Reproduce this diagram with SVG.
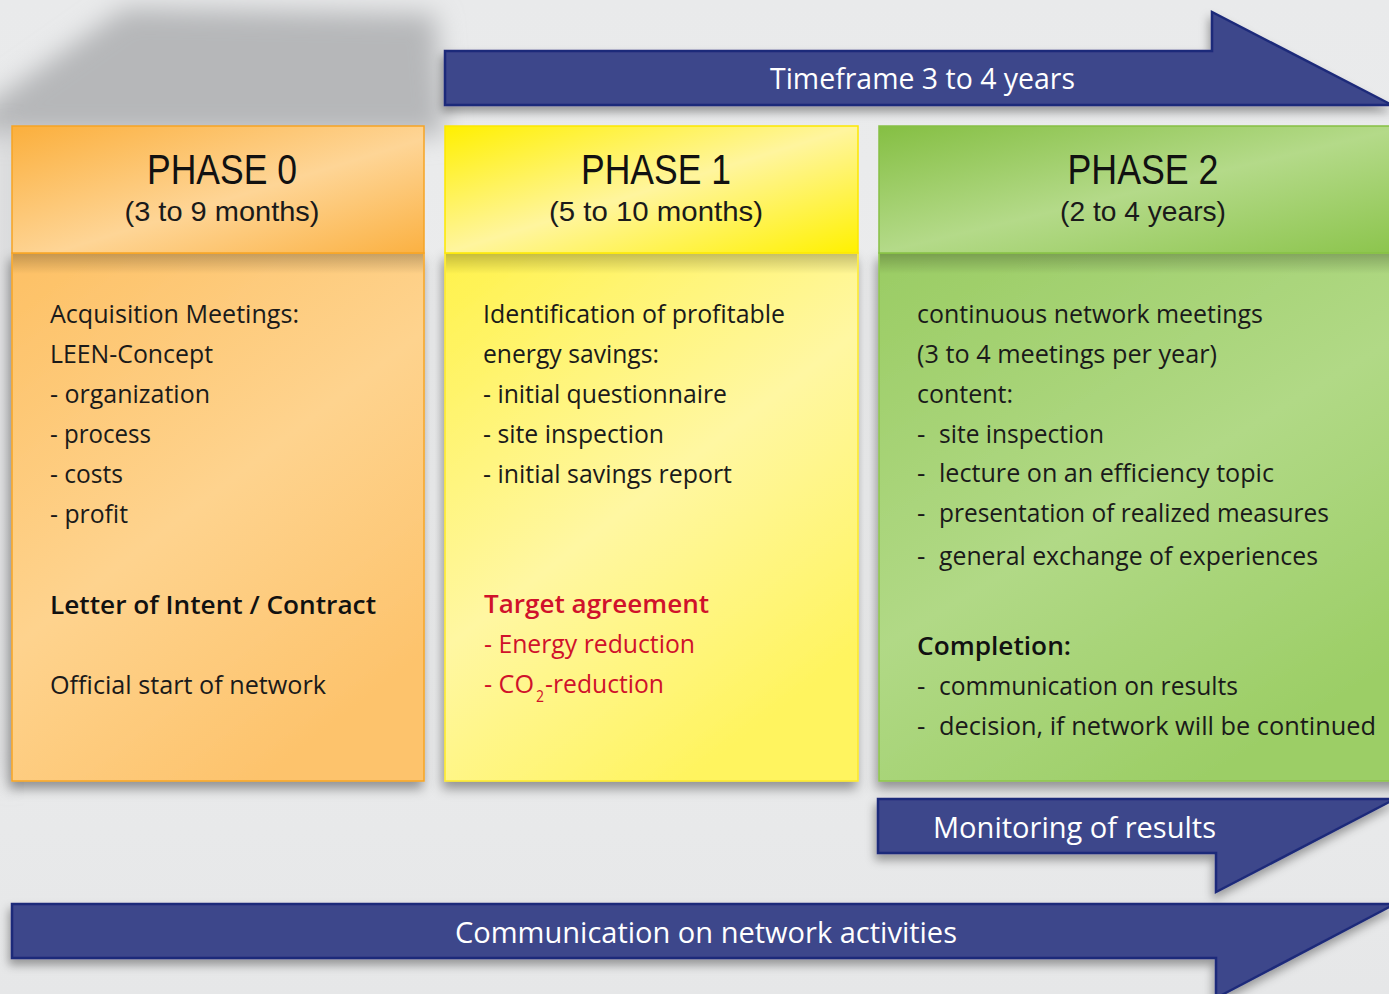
<svg xmlns="http://www.w3.org/2000/svg" width="1389" height="994" viewBox="0 0 1389 994">
<style>
text{font-family:"Open Sans","Noto Sans","Liberation Sans",sans-serif;}
.h{font-family:"Liberation Sans",Arial,sans-serif;font-size:42px;fill:#111;text-anchor:middle;}
.sub{font-family:"Liberation Sans",Arial,sans-serif;font-size:28px;fill:#1a1a1a;text-anchor:middle;}
.t{font-size:26px;fill:#1a1a1a;}
.b{font-size:26px;fill:#111;font-weight:600;}
.r{font-size:26px;fill:#d0112b;}
.rb{font-size:26px;fill:#d0112b;font-weight:600;}
.w{font-size:29px;fill:#ffffff;}
.arrow{fill:#3d468b;stroke:#1f2b7a;stroke-width:2.5;stroke-linejoin:miter;}
</style>
<defs>
<linearGradient id="bg" x1="0" y1="0" x2="0" y2="1">
<stop offset="0" stop-color="#e9eaeb"/><stop offset="0.5" stop-color="#ecedee"/><stop offset="1" stop-color="#e6e7e8"/>
</linearGradient>
<filter id="blur" x="-20%" y="-40%" width="140%" height="180%"><feGaussianBlur stdDeviation="13"/></filter>
<filter id="sh" x="-10%" y="-10%" width="120%" height="125%"><feDropShadow dx="-2" dy="7" stdDeviation="6" flood-color="#000" flood-opacity="0.38"/></filter>
<filter id="sh2" x="-10%" y="-30%" width="120%" height="170%"><feDropShadow dx="-2" dy="6" stdDeviation="5" flood-color="#000" flood-opacity="0.35"/></filter>
<linearGradient id="o1" x1="0" y1="0" x2="1" y2="1">
<stop offset="0" stop-color="#fbaf3c"/><stop offset="0.55" stop-color="#fed596"/><stop offset="1" stop-color="#fbb142"/>
</linearGradient>
<linearGradient id="o2" x1="0" y1="0" x2="0.6" y2="1">
<stop offset="0" stop-color="#fdc064"/><stop offset="0.55" stop-color="#fed38e"/><stop offset="1" stop-color="#fdc36c"/>
</linearGradient>
<linearGradient id="y1" x1="0" y1="0" x2="1" y2="1">
<stop offset="0" stop-color="#fff000"/><stop offset="0.5" stop-color="#fff59e"/><stop offset="1" stop-color="#fff100"/>
</linearGradient>
<linearGradient id="y2" x1="0" y1="0" x2="0.6" y2="1">
<stop offset="0" stop-color="#fff24a"/><stop offset="0.55" stop-color="#fff7a2"/><stop offset="1" stop-color="#fff45e"/>
</linearGradient>
<linearGradient id="g1" x1="0" y1="0" x2="1" y2="1">
<stop offset="0" stop-color="#85bf43"/><stop offset="0.5" stop-color="#b4da89"/><stop offset="1" stop-color="#8bc44b"/>
</linearGradient>
<linearGradient id="g2" x1="0" y1="0" x2="0.6" y2="1">
<stop offset="0" stop-color="#9acc63"/><stop offset="0.55" stop-color="#b1d986"/><stop offset="1" stop-color="#9cce66"/>
</linearGradient>
<linearGradient id="hs" x1="0" y1="0" x2="0" y2="1">
<stop offset="0" stop-color="#000" stop-opacity="0.22"/><stop offset="1" stop-color="#000" stop-opacity="0"/>
</linearGradient>
</defs>

<rect x="0" y="0" width="1389" height="994" fill="url(#bg)"/>
<polygon points="125,8 435,14 445,135 -20,135 -20,110" fill="#b6b7b9" filter="url(#blur)"/>
<polygon points="0,130 20,130 20,780 0,780" fill="#c4c5c7" filter="url(#blur)" opacity="0.7"/>

<g id="phase0">
<g filter="url(#sh)">
<rect x="12" y="253" width="412" height="528" fill="url(#o2)" stroke="#f6a425" stroke-width="1.5"/>
</g>
<rect x="13" y="254" width="410" height="20" fill="url(#hs)"/>
<rect x="12" y="126" width="412" height="127" fill="url(#o1)" stroke="#f6a425" stroke-width="1.5"/>
<text class="h" x="222" y="184" textLength="150" lengthAdjust="spacingAndGlyphs">PHASE 0</text>
<text class="sub" x="222" y="221" textLength="195" lengthAdjust="spacingAndGlyphs">(3 to 9 months)</text>
<text class="t" x="50" y="323" textLength="249" lengthAdjust="spacingAndGlyphs">Acquisition Meetings:</text>
<text class="t" x="50" y="363" textLength="163" lengthAdjust="spacingAndGlyphs">LEEN-Concept</text>
<text class="t" x="50" y="403" textLength="160" lengthAdjust="spacingAndGlyphs">- organization</text>
<text class="t" x="50" y="443" textLength="101" lengthAdjust="spacingAndGlyphs">- process</text>
<text class="t" x="50" y="483" textLength="73" lengthAdjust="spacingAndGlyphs">- costs</text>
<text class="t" x="50" y="523" textLength="78" lengthAdjust="spacingAndGlyphs">- profit</text>
<text class="b" x="50" y="614" textLength="326" lengthAdjust="spacingAndGlyphs">Letter of Intent / Contract</text>
<text class="t" x="50" y="694" textLength="276" lengthAdjust="spacingAndGlyphs">Official start of network</text>
</g>

<g id="phase1">
<g filter="url(#sh)">
<rect x="445" y="253" width="413" height="528" fill="url(#y2)" stroke="#fde92a" stroke-width="1.5"/>
</g>
<rect x="446" y="254" width="411" height="20" fill="url(#hs)"/>
<rect x="445" y="126" width="413" height="127" fill="url(#y1)" stroke="#fde800" stroke-width="1.5"/>
<text class="h" x="656" y="184" textLength="150" lengthAdjust="spacingAndGlyphs">PHASE 1</text>
<text class="sub" x="656" y="221" textLength="214" lengthAdjust="spacingAndGlyphs">(5 to 10 months)</text>
<text class="t" x="483" y="323" textLength="302" lengthAdjust="spacingAndGlyphs">Identification of profitable</text>
<text class="t" x="483" y="363" textLength="176" lengthAdjust="spacingAndGlyphs">energy savings:</text>
<text class="t" x="483" y="403" textLength="244" lengthAdjust="spacingAndGlyphs">- initial questionnaire</text>
<text class="t" x="483" y="443" textLength="181" lengthAdjust="spacingAndGlyphs">- site inspection</text>
<text class="t" x="483" y="483" textLength="249" lengthAdjust="spacingAndGlyphs">- initial savings report</text>
<text class="rb" x="484" y="613" textLength="225" lengthAdjust="spacingAndGlyphs">Target agreement</text>
<text class="r" x="484" y="653" textLength="211" lengthAdjust="spacingAndGlyphs">- Energy reduction</text>
<text class="r" x="484" y="693" textLength="50" lengthAdjust="spacingAndGlyphs">- CO</text>
<text class="r" x="536" y="702" style="font-size:16px" textLength="8" lengthAdjust="spacingAndGlyphs">2</text>
<text class="r" x="545" y="693" textLength="119" lengthAdjust="spacingAndGlyphs">-reduction</text>
</g>

<g id="phase2">
<g filter="url(#sh)">
<rect x="879" y="253" width="530" height="528" fill="url(#g2)" stroke="#8dc54a" stroke-width="1.5"/>
</g>
<rect x="880" y="254" width="528" height="20" fill="url(#hs)"/>
<rect x="879" y="126" width="530" height="127" fill="url(#g1)" stroke="#86c044" stroke-width="1.5"/>
<text class="h" x="1143" y="184" textLength="151" lengthAdjust="spacingAndGlyphs">PHASE 2</text>
<text class="sub" x="1143" y="221" textLength="166" lengthAdjust="spacingAndGlyphs">(2 to 4 years)</text>
<text class="t" x="917" y="323" textLength="346" lengthAdjust="spacingAndGlyphs">continuous network meetings</text>
<text class="t" x="917" y="363" textLength="300" lengthAdjust="spacingAndGlyphs">(3 to 4 meetings per year)</text>
<text class="t" x="917" y="403" textLength="96" lengthAdjust="spacingAndGlyphs">content:</text>
<text class="t" x="917" y="443">-</text>
<text class="t" x="939" y="443" textLength="165" lengthAdjust="spacingAndGlyphs">site inspection</text>
<text class="t" x="917" y="482">-</text>
<text class="t" x="939" y="482" textLength="335" lengthAdjust="spacingAndGlyphs">lecture on an efficiency topic</text>
<text class="t" x="917" y="522">-</text>
<text class="t" x="939" y="522" textLength="390" lengthAdjust="spacingAndGlyphs">presentation of realized measures</text>
<text class="t" x="917" y="565">-</text>
<text class="t" x="939" y="565" textLength="379" lengthAdjust="spacingAndGlyphs">general exchange of experiences</text>
<text class="b" x="917" y="655" textLength="154" lengthAdjust="spacingAndGlyphs">Completion:</text>
<text class="t" x="917" y="695">-</text>
<text class="t" x="939" y="695" textLength="299" lengthAdjust="spacingAndGlyphs">communication on results</text>
<text class="t" x="917" y="735">-</text>
<text class="t" x="939" y="735" textLength="437" lengthAdjust="spacingAndGlyphs">decision, if network will be continued</text>
</g>

<g id="connectors">
<g id="timeframe">
<path class="arrow" filter="url(#sh2)" d="M445,51 L1212,51 L1212,12 L1392,105 L445,105 Z"/>
<text class="w" x="770" y="89" textLength="305" lengthAdjust="spacingAndGlyphs">Timeframe 3 to 4 years</text>
</g>
<g id="monitoring">
<path class="arrow" filter="url(#sh2)" d="M878,799 L1395,799 L1216,892 L1216,853 L878,853 Z"/>
<text class="w" x="933" y="838" style="font-size:30px" textLength="283" lengthAdjust="spacingAndGlyphs">Monitoring of results</text>
</g>
<g id="communication">
<path class="arrow" filter="url(#sh2)" d="M12,904 L1395,904 L1216,998 L1216,958 L12,958 Z"/>
<text class="w" x="455" y="943" style="font-size:30px" textLength="502" lengthAdjust="spacingAndGlyphs">Communication on network activities</text>
</g>
</g>
</svg>
